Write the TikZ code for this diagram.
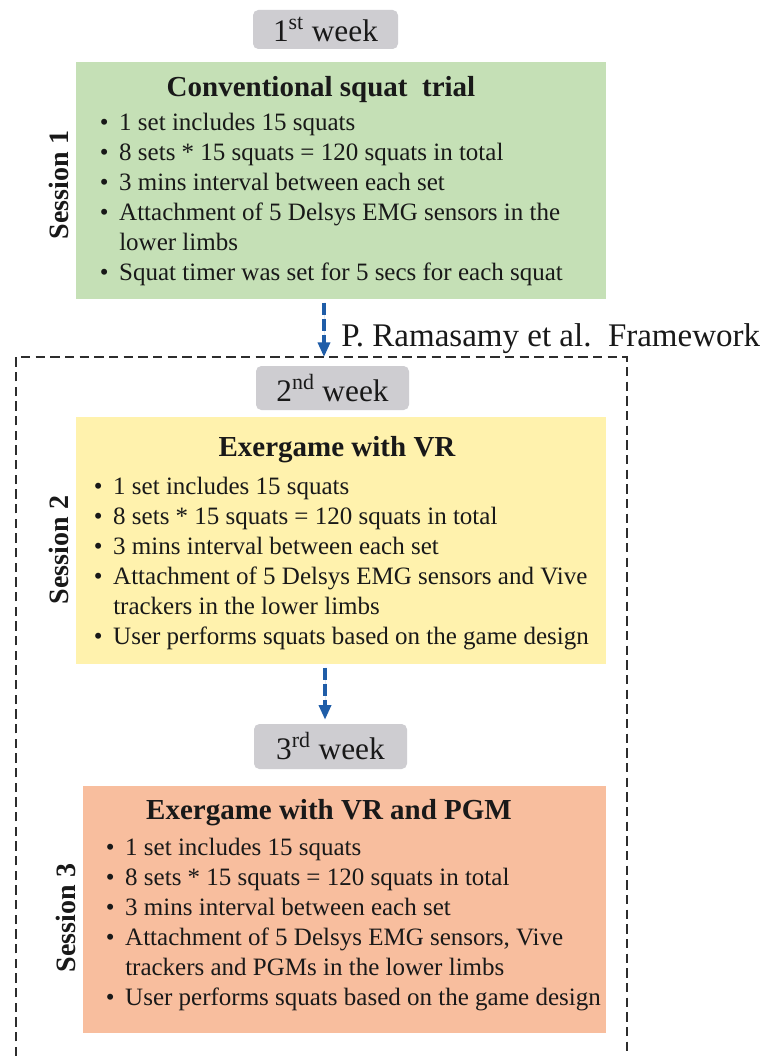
\documentclass[tikz,border=0pt]{standalone}
\usepackage{fontspec}
\setmainfont{Liberation Serif}
\usetikzlibrary{arrows.meta}
\definecolor{gbox}{RGB}{197,224,182}
\definecolor{ybox}{RGB}{255,242,173}
\definecolor{obox}{RGB}{248,190,158}
\definecolor{wkgray}{RGB}{206,205,209}
\definecolor{arrblue}{RGB}{31,93,168}
\definecolor{txt}{RGB}{25,25,25}
\definecolor{framegray}{RGB}{45,45,45}
\newcommand\itm[4]{\node[itm] (#1) at (#2,#3) {\llap{\makebox[22.5pt]{\textbullet}}#4};}
\newcommand\cnt[4]{\node[itm] (#1) at (#2,#3) {#4};}
\tikzset{
  x=0.75pt, y=-0.75pt,
  every node/.style={text=txt},
  box/.style={draw=none, inner sep=0pt},
  week/.style={draw=none, fill=wkgray, rounded corners=4pt, inner sep=0pt,
    font=\fontsize{23.5pt}{27pt}\selectfont},
  itm/.style={anchor=base west, inner sep=0pt, font=\fontsize{18.75pt}{22pt}\selectfont},
  ttl/.style={anchor=base, inner sep=0pt, font=\fontsize{21.75pt}{26pt}\selectfont\bfseries},
  sess/.style={rotate=90, inner sep=0pt, font=\fontsize{21pt}{25pt}\selectfont\bfseries},
  arr/.style={draw=arrblue, line width=2.6pt, dash pattern=on 9pt off 3pt,
    -{Triangle[width=9pt,length=11pt]}, fill=arrblue},
  frame/.style={draw=framegray, line width=1.1pt, dash pattern=on 7pt off 4pt}
}
\begin{document}
\begin{tikzpicture}
\frenchspacing
\fill[white] (0,0) rectangle (765,1056);
\useasboundingbox (0,0) rectangle (765,1056);

% dashed frame
\coordinate (fbl) at (16,1056);
\coordinate (ftl) at (16,357);
\coordinate (ftr) at (627,357);
\coordinate (fbr) at (627,1056);
\coordinate (frametop) at (324,357);
\draw[frame] (fbl) -- (ftl) -- (ftr) -- (fbr);

% week labels
\node[week, minimum width=108.75pt, minimum height=29.25pt] (w1) at (325.5,29.5) {1\textsuperscript{st} week};
\node[week, minimum width=114.75pt, minimum height=33pt] (w2) at (332.5,388) {2\textsuperscript{nd} week};
\node[week, minimum width=114.75pt, minimum height=33.75pt] (w3) at (330.5,746.5) {3\textsuperscript{rd} week};

% boxes
\node[box, fill=gbox, minimum width=397.5pt, minimum height=177.75pt] (g1) at (341,180.5) {};
\node[box, fill=ybox, minimum width=397.5pt, minimum height=185.25pt] (y2) at (341,540.5) {};
\node[box, fill=obox, minimum width=392.25pt, minimum height=185.25pt] (o3) at (344.5,909.5) {};

% titles
\node[ttl] (t1) at (321,97) {Conventional squat\ \ trial};
\node[ttl] (t2) at (337,456) {Exergame with VR};
\node[ttl] (t3) at (329,819) {Exergame with VR and PGM};

% session labels
\node[sess] (s1) at (59,185) {Session 1};
\node[sess] (s2) at (59,550) {Session 2};
\node[sess] (s3) at (66,918) {Session 3};

% box 1 items
\itm{a1}{119}{130}{1 set includes 15 squats}
\itm{a2}{119}{160}{8 sets * 15 squats = 120 squats in total}
\itm{a3}{119}{190}{3 mins interval between each set}
\itm{a4}{119}{220}{Attachment of 5 Delsys EMG sensors in the}
\cnt{a5}{119}{250}{lower limbs}
\itm{a6}{119}{280}{Squat timer was set for 5 secs for each squat}

% box 2 items
\itm{b1}{113}{494}{1 set includes 15 squats}
\itm{b2}{113}{524}{8 sets * 15 squats = 120 squats in total}
\itm{b3}{113}{554}{3 mins interval between each set}
\itm{b4}{113}{584}{Attachment of 5 Delsys EMG sensors and Vive}
\cnt{b5}{113}{614}{trackers in the lower limbs}
\itm{b6}{113}{644}{User performs squats based on the game design}

% box 3 items
\itm{c1}{125}{855}{1 set includes 15 squats}
\itm{c2}{125}{885}{8 sets * 15 squats = 120 squats in total}
\itm{c3}{125}{915}{3 mins interval between each set}
\itm{c4}{125}{945}{Attachment of 5 Delsys EMG sensors, Vive}
\cnt{c5}{125}{975}{trackers and PGMs in the lower limbs}
\itm{c6}{125}{1005}{User performs squats based on the game design}

% framework label
\node[anchor=base west, inner sep=0pt, font=\fontsize{24.75pt}{28pt}\selectfont] (fw) at (341,346) {P. Ramasamy et al.\ \ Framework};

% arrows
\coordinate (a2x) at (325,700);
\draw[arr, shorten <=2.5pt] (g1.south -| frametop) -- (frametop);
\draw[arr, shorten <=2.5pt, shorten >=3pt] (y2.south -| a2x) -- (w3.north -| a2x);
\end{tikzpicture}
\end{document}
